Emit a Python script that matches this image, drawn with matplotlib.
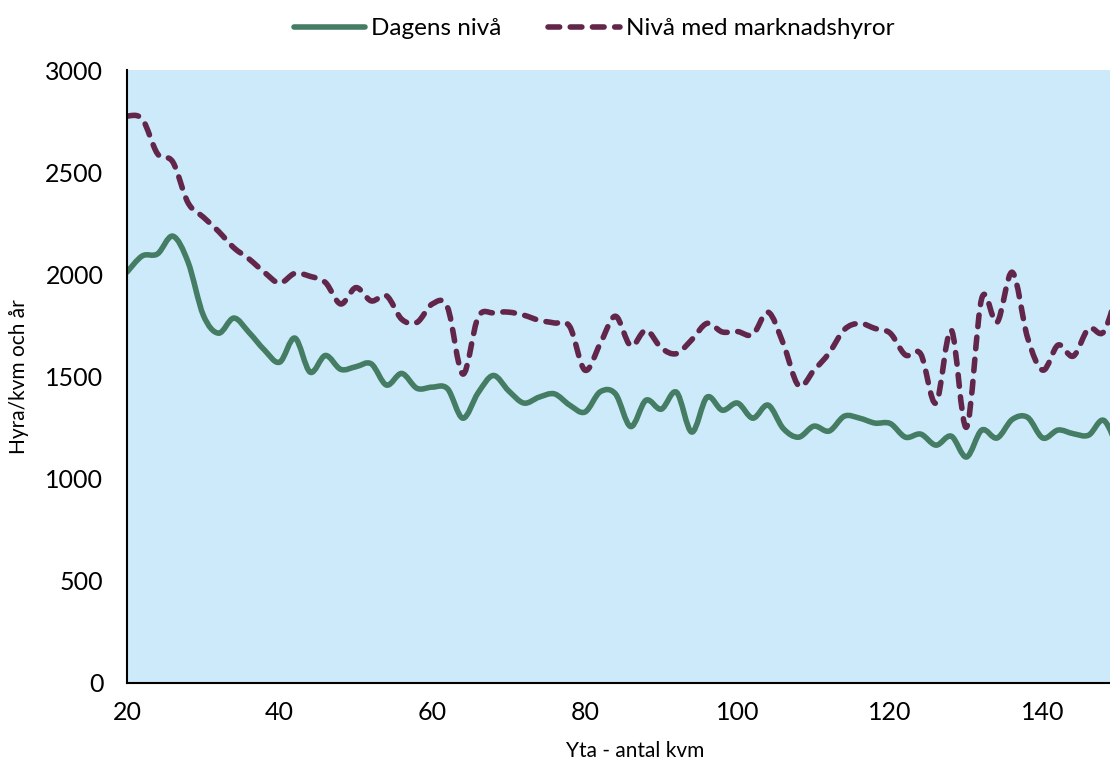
import numpy as np
import matplotlib
matplotlib.use("Agg")
import matplotlib.pyplot as plt
from matplotlib.path import Path
from matplotlib.patches import PathPatch

plt.rcParams['font.family'] = ['Lato', 'DejaVu Sans']

# area in kvm (one point every 2 kvm)
yta = np.arange(20, 151, 2)

# Dagens nivå
dagens = [2011, 2090, 2100, 2187, 2060, 1800, 1712, 1786, 1715, 1630,
          1570, 1688, 1521, 1603, 1535, 1548, 1562, 1458, 1515, 1442,
          1448, 1440, 1296, 1420, 1505, 1430, 1370, 1399, 1415, 1360,
          1326, 1425, 1415, 1255, 1384, 1340, 1423, 1228, 1399, 1335,
          1370, 1296, 1360, 1245, 1203, 1257, 1233, 1306, 1296, 1272,
          1270, 1203, 1218, 1164, 1208, 1106, 1238, 1199, 1290, 1300,
          1199, 1238, 1220, 1213, 1285, 1130]

# Nivå med marknadshyror
marknad = [2775, 2760, 2590, 2550, 2350, 2280, 2210, 2130, 2075, 2010,
           1957, 2005, 1990, 1960, 1855, 1935, 1870, 1895, 1780, 1765,
           1855, 1838, 1512, 1790, 1812, 1815, 1800, 1775, 1762, 1745,
           1531, 1660, 1795, 1650, 1727, 1640, 1612, 1680, 1760, 1718,
           1720, 1705, 1815, 1660, 1455, 1530, 1615, 1730, 1760, 1735,
           1712, 1605, 1610, 1370, 1727, 1252, 1883, 1765, 2010, 1690,
           1531, 1654, 1600, 1735, 1720, 1950]

x_ticks = [20, 40, 60, 80, 100, 120, 140]
y_ticks = [0, 500, 1000, 1500, 2000, 2500, 3000]

green = '#457d64'
purple = '#62264a'
bg = '#cdeafb'


def smooth_path(xs, ys):
    # smoothed line through the points, like Excel's "smoothed line"
    xs = np.asarray(xs, float)
    ys = np.asarray(ys, float)
    n = len(xs)
    verts = [(xs[0], ys[0])]
    codes = [Path.MOVETO]
    for i in range(n - 1):
        a = max(i - 1, 0)
        d = min(i + 2, n - 1)
        c1 = (xs[i] + (xs[i + 1] - xs[a]) / 6, ys[i] + (ys[i + 1] - ys[a]) / 6)
        c2 = (xs[i + 1] - (xs[d] - xs[i]) / 6, ys[i + 1] - (ys[d] - ys[i]) / 6)
        verts += [c1, c2, (xs[i + 1], ys[i + 1])]
        codes += [Path.CURVE4] * 3
    return Path(verts, codes)


fig = plt.figure(figsize=(11.1, 7.63), dpi=100)
ax = fig.add_axes([127 / 1110, 1 - 683 / 763, 1 - 127 / 1110, (683 - 70) / 763])
ax.set_facecolor(bg)

lw = 4.0
dash = (0, (2.1, 1.9))
p1 = PathPatch(smooth_path(yta, dagens), fill=False, edgecolor=green,
               linewidth=lw, capstyle='round', joinstyle='round')
p2 = PathPatch(smooth_path(yta, marknad), fill=False, edgecolor=purple,
               linewidth=lw, linestyle=dash, capstyle='round',
               joinstyle='round')
ax.add_patch(p1)
ax.add_patch(p2)

# legend handles
ax.plot([], [], color=green, linewidth=lw, solid_capstyle='round', label='Dagens nivå')
ax.plot([], [], color=purple, linewidth=lw, linestyle=dash,
        dash_capstyle='round', label='Nivå med marknadshyror')

ax.set_xlim(20, 148.8)
ax.set_ylim(0, 3000)
ax.set_xticks(x_ticks)
ax.set_yticks(y_ticks)
ax.tick_params(axis='both', length=0, labelsize=18)
ax.tick_params(axis='y', pad=17)
ax.tick_params(axis='x', pad=13)

for s in ['top', 'right']:
    ax.spines[s].set_visible(False)
for s in ['left', 'bottom']:
    ax.spines[s].set_color('black')
    ax.spines[s].set_linewidth(1.5)

ax.set_xlabel('Yta - antal kvm', fontsize=15)
ax.xaxis.set_label_coords(0.517, -0.095)
ax.set_ylabel('Hyra/kvm och år', fontsize=15, labelpad=12)

fig.legend(loc='upper center', bbox_to_anchor=(0.535, 1.005), ncol=2,
           frameon=False, fontsize=17.5, handlelength=2.95, columnspacing=1.9,
           handletextpad=0.25)

fig.savefig('out.png', dpi=100)
